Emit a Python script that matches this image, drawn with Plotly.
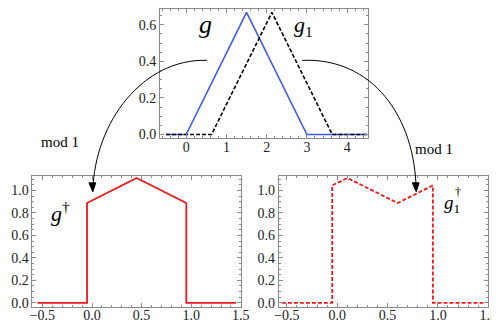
import plotly.graph_objects as go

W, H = 499, 325

# top panel: g and its shifted copy g1
g_x = [-0.5, 0.0, 1.5, 3.0, 4.5]
g_y = [0.0, 0.0, 0.667, 0.0, 0.0]
g1_x = [-0.5, 0.63, 2.13, 3.63, 4.5]
g1_y = [0.0, 0.0, 0.667, 0.0, 0.0]

# bottom panels: periodised versions (mod 1)
gd_x = [-0.55, -0.05, -0.05, 0.45, 0.95, 0.95, 1.45]
gd_y = [0.0, 0.0, 0.889, 1.111, 0.889, 0.0, 0.0]
g1d_x = [-0.55, -0.05, -0.05, 0.1, 0.6, 0.95, 0.95, 1.45]
g1d_y = [0.0, 0.0, 1.045, 1.111, 0.889, 1.045, 0.0, 0.0]

top_xticks = [0, 1, 2, 3, 4]
top_yticks = [0.0, 0.2, 0.4, 0.6]
bot_xticks = [-0.5, 0.0, 0.5, 1.0, 1.5]
bot_yticks = [0.0, 0.2, 0.4, 0.6, 0.8, 1.0]

BLUE = "rgb(60,90,235)"
RED = "rgb(235,25,25)"
FRAME = "#8a8a8a"
SERIF = "Liberation Serif, Times New Roman, serif"


def px(x, y):
    # pixel position -> paper coords (margins are zero)
    return x / W, 1 - y / H


fig = go.Figure()

fig.add_trace(go.Scatter(x=g_x, y=g_y, mode="lines", line=dict(color=BLUE, width=1.6),
                         xaxis="x", yaxis="y", showlegend=False, hoverinfo="skip"))
fig.add_trace(go.Scatter(x=g1_x, y=g1_y, mode="lines", line=dict(color="black", width=1.6, dash="4px,2px"),
                         xaxis="x", yaxis="y", showlegend=False, hoverinfo="skip"))
fig.add_trace(go.Scatter(x=gd_x, y=gd_y, mode="lines", line=dict(color=RED, width=1.8),
                         xaxis="x2", yaxis="y2", showlegend=False, hoverinfo="skip"))
fig.add_trace(go.Scatter(x=g1d_x, y=g1d_y, mode="lines", line=dict(color=RED, width=1.8, dash="4px,2px"),
                         xaxis="x3", yaxis="y3", showlegend=False, hoverinfo="skip"))


def axis(domain, rng, ticks, fmt, anchor, dtick_minor, standoff):
    return dict(domain=domain, range=rng, tickvals=ticks, tickformat=fmt, anchor=anchor,
                showline=True, mirror="ticks", linecolor=FRAME, linewidth=1,
                ticks="inside", ticklen=4, tickcolor=FRAME, showgrid=False, zeroline=False,
                minor=dict(ticks="inside", ticklen=2, tickcolor=FRAME, dtick=dtick_minor),
                ticklabelstandoff=standoff,
                tickfont=dict(family=SERIF, size=14, color="#222"))


top_x0, top_y1 = px(152, 0)
top_x1, top_y0 = px(366, 132)
bl_x0, b_y1 = px(21, 170)
bl_x1, b_y0 = px(235, 303)
br_x0, _ = px(274, 170)
br_x1, _ = px(489, 303)

fig.update_layout(
    width=W, height=H,
    margin=dict(l=0, r=0, t=0, b=0),
    plot_bgcolor="white", paper_bgcolor="white",
    font=dict(family=SERIF),
    xaxis=axis([top_x0, top_x1], [-0.65, 4.53], top_xticks, "d", "y", 0.2, -4),
    yaxis=axis([top_y0, 0.997], [-0.021, 0.686], top_yticks, ".1f", "x", 0.05, 0),
    xaxis2=axis([bl_x0, bl_x1], [-0.6, 1.5], bot_xticks, ".1f", "y2", 0.1, -5),
    yaxis2=axis([b_y0, b_y1], [-0.04, 1.13], bot_yticks, ".1f", "x2", 0.05, 0),
    xaxis3=axis([br_x0, br_x1], [-0.58, 1.5], bot_xticks, ".1f", "y3", 0.1, -5),
    yaxis3=axis([b_y0, b_y1], [-0.04, 1.13], bot_yticks, ".1f", "x3", 0.05, 0),
)


def label(x, y, text, size):
    xp, yp = px(x, y)
    fig.add_annotation(x=xp, y=yp, xref="paper", yref="paper", text=text, showarrow=False,
                       xanchor="center", yanchor="middle",
                       font=dict(family=SERIF, size=size, color="black"))


label(199, 17, "<i>g</i>", 26)
label(299, 18, "<i>g</i><sub>1</sub>", 22)
label(50, 207, "<i>g</i><sup>†</sup>", 22)
label(452, 198, "<i>g</i><sub>1</sub>", 19)
label(458, 186, "†", 12)
label(49, 136, "mod 1", 15)
label(433, 143, "mod 1", 15)


def curve(pts):
    p = [px(*q) for q in pts]
    path = "M {},{} C {},{} {},{} {},{}".format(*[c for q in p for c in q])
    fig.add_shape(type="path", path=path, xref="paper", yref="paper",
                  line=dict(color="black", width=1))
    # small arrowhead at the end, pointing down
    tx, ty = pts[-1]
    head = [px(tx, ty + 1), px(tx - 4, ty - 8), px(tx + 3, ty - 8)]
    hpath = "M {},{} L {},{} L {},{} Z".format(*[c for q in head for c in q])
    fig.add_shape(type="path", path=hpath, xref="paper", yref="paper",
                  line=dict(color="black", width=1), fillcolor="black")


curve([(200, 53), (135, 51), (85, 115), (83, 185)])
curve([(298, 53), (370, 50), (414, 110), (415, 185)])

fig.write_html("out.html")
